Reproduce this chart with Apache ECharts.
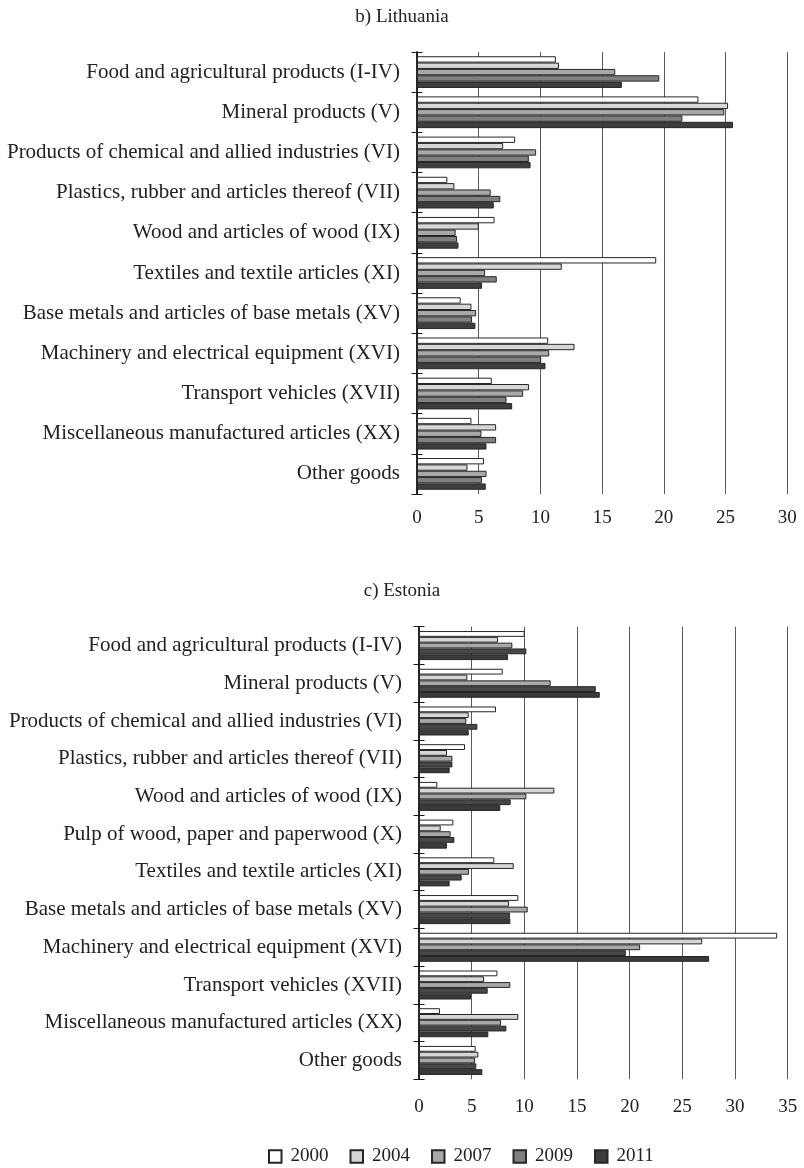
<!DOCTYPE html>
<html>
<head>
<meta charset="utf-8">
<script src="https://cdn.jsdelivr.net/npm/echarts@6/dist/echarts.min.js"></script>
<style>html,body{margin:0;padding:0;background:#fff}#c{width:804px;height:1168px}</style>
</head>
<body>
<div id="c"></div>
<script>
const years = ['2000', '2004', '2007', '2009', '2011'];

const ltCategories = ['Food and agricultural products (I-IV)', 'Mineral products (V)', 'Products of chemical and allied industries (VI)', 'Plastics, rubber and articles thereof (VII)', 'Wood and articles of wood (IX)', 'Textiles and textile articles (XI)', 'Base metals and articles of base metals (XV)', 'Machinery and electrical equipment (XVI)', 'Transport vehicles (XVII)', 'Miscellaneous manufactured articles (XX)', 'Other goods'];
const lt2000 = [11.25, 22.8, 7.95, 2.46, 6.28, 19.38, 3.54, 10.63, 6.06, 4.41, 5.43];
const lt2004 = [11.5, 25.2, 6.98, 3.03, 5.0, 11.73, 4.41, 12.76, 9.08, 6.41, 4.09];
const lt2007 = [16.06, 24.9, 9.65, 5.97, 3.13, 5.52, 4.79, 10.71, 8.6, 5.22, 5.63];
const lt2009 = [19.63, 21.5, 9.06, 6.75, 3.24, 6.46, 4.46, 10.06, 7.25, 6.41, 5.27];
const lt2011 = [16.6, 25.6, 9.2, 6.22, 3.36, 5.27, 4.73, 10.41, 7.71, 5.63, 5.57];

const eeCategories = ['Food and agricultural products (I-IV)', 'Mineral products (V)', 'Products of chemical and allied industries (VI)', 'Plastics, rubber and articles thereof (VII)', 'Wood and articles of wood (IX)', 'Pulp of wood, paper and paperwood (X)', 'Textiles and textile articles (XI)', 'Base metals and articles of base metals (XV)', 'Machinery and electrical equipment (XVI)', 'Transport vehicles (XVII)', 'Miscellaneous manufactured articles (XX)', 'Other goods'];
const ee2000 = [10.03, 7.95, 7.31, 4.37, 1.74, 3.26, 7.15, 9.43, 34.0, 7.44, 1.99, 5.38];
const ee2004 = [7.5, 4.59, 4.72, 2.66, 12.85, 2.06, 8.99, 8.55, 26.88, 6.17, 9.43, 5.63];
const ee2007 = [8.86, 12.5, 4.49, 3.17, 10.19, 3.0, 4.75, 10.32, 20.99, 8.67, 7.79, 5.32];
const ee2009 = [10.19, 16.78, 5.54, 3.17, 8.7, 3.36, 4.05, 8.64, 19.63, 6.52, 8.29, 5.44];
const ee2011 = [8.45, 17.16, 4.72, 2.91, 7.72, 2.66, 2.91, 8.67, 27.54, 4.94, 6.58, 6.01];

const ltTicks = [0, 5, 10, 15, 20, 25, 30];
const eeTicks = [0, 5, 10, 15, 20, 25, 30, 35];

const FONT = 'Liberation Serif';
const ltColors = ['#ffffff', '#d6d6d6', '#a8a8a8', '#808080', '#3e3e3e'];
const eeColors = ['#ffffff', '#d6d6d6', '#a8a8a8', '#474747', '#3a3a3a'];

const ltData = [lt2000, lt2004, lt2007, lt2009, lt2011];
const eeData = [ee2000, ee2004, ee2007, ee2009, ee2011];

function valueAxis(gridIndex, ticks, margin) {
  return {
    type: 'value', gridIndex: gridIndex,
    min: ticks[0], max: ticks[ticks.length - 1], interval: ticks[1] - ticks[0],
    axisLine: { show: false }, axisTick: { show: false },
    splitLine: { show: true, lineStyle: { color: '#5a5a5a', width: 1 } },
    axisLabel: { color: '#222', fontFamily: FONT, fontSize: 19, margin: margin }
  };
}
function catAxis(gridIndex, cats, inside, showLabel) {
  return {
    type: 'category', gridIndex: gridIndex, data: cats, inverse: true, position: 'left',
    axisLine: { show: true, lineStyle: { color: '#1a1a1a', width: 1.5 } },
    axisTick: { show: true, inside: inside, length: 5.5, interval: 0, lineStyle: { color: '#1a1a1a', width: 1 } },
    axisLabel: { show: showLabel, color: '#222', fontFamily: FONT, fontSize: 21, margin: 17, interval: 0 },
    splitLine: { show: false }
  };
}

const series = [];
years.forEach((y, i) => {
  series.push({
    name: y, type: 'bar', xAxisIndex: 0, yAxisIndex: 0, data: ltData[i],
    barGap: '0%', barCategoryGap: '21%',
    itemStyle: { color: ltColors[i], borderColor: '#262626', borderWidth: 1 },
    emphasis: { disabled: true }
  });
});
years.forEach((y, i) => {
  series.push({
    name: y, type: 'bar', xAxisIndex: 1, yAxisIndex: 1, data: eeData[i],
    barGap: '0%', barCategoryGap: '23%',
    itemStyle: { color: eeColors[i], borderColor: '#262626', borderWidth: 1 },
    emphasis: { disabled: true }
  });
});

const chart = echarts.init(document.getElementById('c'), null, { renderer: 'canvas' });
chart.setOption({
  backgroundColor: '#fff',
  animation: false,
  title: [
    { text: 'b) Lithuania', left: 'center', top: 3, textStyle: { fontFamily: FONT, fontSize: 19, fontWeight: 'normal', color: '#222' } },
    { text: 'c) Estonia', left: 'center', top: 577, textStyle: { fontFamily: FONT, fontSize: 19, fontWeight: 'normal', color: '#222' } }
  ],
  legend: {
    data: years, top: 1142, left: 263, icon: 'rect', itemWidth: 12.5, itemHeight: 12.5, itemGap: 21,
    textStyle: { fontFamily: FONT, fontSize: 19, color: '#222', padding: [0, 0, 0, 4] }
  },
  grid: [
    { left: 417, top: 52, width: 370.3, height: 442 },
    { left: 419, top: 626.7, width: 368.7, height: 452.6 }
  ],
  xAxis: [valueAxis(0, ltTicks, 15), valueAxis(1, eeTicks, 18)],
  yAxis: [
    catAxis(0, ltCategories, false, true),
    catAxis(1, eeCategories, false, true),
    catAxis(0, ltCategories, true, false),
    catAxis(1, eeCategories, true, false)
  ],
  series: series
});
</script>
</body>
</html>
